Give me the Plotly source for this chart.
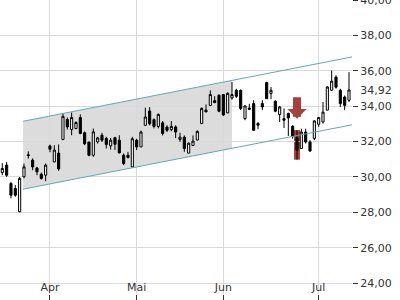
import plotly.graph_objects as go

# OHLC values (trading-day index 0..80)
opens = [30.25, 30.67, 29.63, 29.35, 28.03, 30.01, 31.25, 30.95, 30.51, 30.15,
         30.10, 31.75, 30.85, 31.35, 32.12, 33.25, 32.68, 32.74, 33.36, 32.50,
         31.98, 31.23, 31.98, 32.36, 32.18, 31.76, 32.22, 32.08, 31.23, 31.23,
         30.57, 32.08, 31.70, 32.92, 33.73, 33.24, 32.86, 33.06, 32.82, 32.67,
         32.83, 32.12, 32.25, 31.35, 31.78, 32.09, 33.02, 33.78, 34.04, 34.32,
         34.62, 34.66, 33.63, 34.47, 34.90, 34.90, 33.30, 33.90, 34.15, 33.02,
         34.15, 35.34, 34.72, 34.28, 33.53, 33.30, 33.59, 32.87, 32.22, 31.61,
         32.54, 31.98, 32.18, 32.98, 33.11, 33.78, 34.90, 35.65, 34.90, 34.52,
         34.34]
highs = [30.78, 30.85, 29.72, 29.54, 30.00, 30.76, 31.45, 31.05, 30.57, 30.25,
         30.76, 31.83, 31.80, 31.84, 33.59, 33.36, 33.64, 33.15, 33.54, 32.57,
         31.98, 32.74, 32.27, 32.50, 32.27, 32.21, 32.27, 32.36, 31.33, 31.42,
         32.27, 32.16, 32.63, 33.92, 33.95, 33.31, 33.59, 33.16, 32.92, 33.16,
         32.92, 32.50, 32.35, 31.95, 32.35, 32.63, 33.94, 34.10, 34.90, 34.57,
         34.68, 34.68, 34.79, 35.37, 34.99, 34.95, 34.05, 34.14, 34.34, 33.11,
         34.34, 35.39, 35.09, 34.34, 34.02, 33.87, 33.64, 32.92, 32.65, 32.73,
         32.73, 32.08, 33.21, 33.40, 34.24, 35.13, 36.03, 35.75, 34.99, 34.61,
         35.93]
lows = [30.10, 30.01, 28.79, 28.88, 28.01, 29.92, 31.04, 30.38, 30.10, 29.85,
        29.76, 31.40, 30.85, 30.35, 32.08, 32.68, 32.36, 32.70, 32.42, 31.80,
        31.17, 31.14, 31.89, 31.98, 31.61, 31.55, 31.52, 31.33, 30.67, 31.04,
        30.54, 31.52, 31.70, 32.92, 32.92, 32.75, 32.75, 32.35, 32.54, 32.59,
        32.20, 31.98, 31.42, 31.35, 31.78, 32.08, 33.02, 33.68, 34.04, 34.17,
        33.66, 33.45, 33.60, 34.37, 34.47, 33.78, 33.21, 33.78, 32.64, 32.70,
        33.78, 34.43, 34.40, 33.66, 33.11, 32.77, 32.32, 32.17, 30.98, 31.61,
        31.89, 31.42, 32.08, 32.83, 33.02, 33.78, 34.86, 35.00, 33.95, 33.78,
        34.23]
closes = [30.48, 30.10, 28.97, 28.97, 29.92, 30.57, 31.22, 30.57, 30.29, 29.92,
          30.67, 31.57, 31.52, 30.45, 33.43, 32.83, 33.36, 33.08, 32.46, 31.88,
          31.23, 32.55, 32.21, 32.08, 31.84, 32.08, 31.85, 31.36, 30.76, 31.10,
          32.16, 31.70, 32.54, 33.39, 33.01, 32.86, 33.54, 32.46, 32.64, 32.86,
          32.54, 32.25, 31.61, 31.91, 32.03, 32.58, 33.87, 33.68, 34.66, 34.21,
          33.72, 33.51, 34.73, 34.66, 34.56, 33.87, 34.02, 33.83, 32.64, 32.93,
          33.96, 34.43, 34.90, 33.72, 33.96, 33.21, 33.34, 32.31, 31.52, 32.54,
          31.98, 31.47, 33.17, 33.36, 33.67, 35.09, 35.42, 35.08, 34.15, 34.05,
          34.92]
days = list(range(len(opens)))

month_ticks = [11, 31, 51, 73]
month_labels = ["Apr", "Mai", "Jun", "Jul"]
price_ticks = [24, 26, 28, 30, 32, 34, 36, 38, 40]

# trend channel
channel_x = [4.8, 80.7]
channel_upper = [33.15, 36.79]
channel_lower = [29.31, 32.95]
shade_x = [4.8, 53.0]
shade_upper = [33.15, 35.46]
shade_lower = [29.31, 31.62]

signal_idx = 68
last_close = closes[-1]

RED = "rgba(158,45,40,0.9)"
TEAL = "#62a8b0"
GRID = "#d9d9d9"

fig = go.Figure()

# shaded channel part (below grid and candles), built from the channel arrays
pts = list(zip(shade_x, shade_upper)) + list(zip(shade_x[::-1], shade_lower[::-1]))
shade_path = "M " + " L ".join(f"{x},{y}" for x, y in pts) + " Z"
fig.add_shape(type="path", path=shade_path, xref="x", yref="y",
              fillcolor="#dcdcdc", line=dict(width=0), layer="below")
# signal highlight bar behind the candle
fig.add_shape(type="line", xref="x", yref="y",
              x0=signal_idx, x1=signal_idx, y0=lows[signal_idx], y1=highs[signal_idx],
              line=dict(color=RED, width=6), layer="below")

fig.add_trace(go.Candlestick(
    x=days, open=opens, high=highs, low=lows, close=closes,
    increasing=dict(line=dict(color="black", width=1), fillcolor="white"),
    decreasing=dict(line=dict(color="black", width=1), fillcolor="black"),
    whiskerwidth=0))
fig.add_trace(go.Scatter(x=channel_x, y=channel_upper, mode="lines",
                         line=dict(color=TEAL, width=1)))
fig.add_trace(go.Scatter(x=channel_x, y=channel_lower, mode="lines",
                         line=dict(color=TEAL, width=1)))
# dummy traces to activate the overlay axes
fig.add_trace(go.Scatter(x=[days[-1]], y=[last_close], yaxis="y2",
                         mode="markers", marker=dict(opacity=0), hoverinfo="skip"))
fig.add_trace(go.Scatter(x=[days[-1]], y=[last_close], xaxis="x2",
                         mode="markers", marker=dict(opacity=0), hoverinfo="skip"))

fig.add_annotation(x=signal_idx, y=highs[signal_idx] + 0.65, text="",
                   showarrow=True, ax=0, ay=-23, arrowhead=1, arrowsize=0.4,
                   arrowwidth=8, arrowcolor=RED)

xrange = [-0.53, 80.69]
yrange = [23.38, 40.01]
fig.update_layout(
    width=400, height=300,
    margin=dict(l=0, r=48, t=0, b=6),
    paper_bgcolor="white", plot_bgcolor="white",
    showlegend=False,
    separators=",.",
    font=dict(family="DejaVu Sans", size=11, color="#333333"),
    xaxis=dict(range=xrange, tickvals=month_ticks, showticklabels=False,
               ticks="outside", ticklen=5, tickcolor="#333333", automargin=False,
               showgrid=True, gridcolor=GRID,
               zeroline=False, showline=False, rangeslider=dict(visible=False)),
    xaxis2=dict(overlaying="x", anchor="free", position=0.052, side="bottom",
                range=xrange, tickvals=month_ticks, ticktext=month_labels,
                ticks="", showgrid=False, zeroline=False, showline=False,
                automargin=False),
    yaxis=dict(side="right", range=yrange, tickvals=price_ticks, tickformat=".2f",
               ticks="outside", ticklen=5, tickcolor="#333333",
               ticklabeloverflow="allow", automargin=False,
               showgrid=True, gridcolor=GRID, zeroline=False, showline=False),
    yaxis2=dict(side="right", overlaying="y", range=yrange, tickvals=[last_close],
                tickformat=".2f", ticks="outside", ticklen=5, automargin=False,
                tickcolor="rgba(0,0,0,0)", showgrid=False, zeroline=False,
                showline=False),
)

fig.write_html("out.html")
